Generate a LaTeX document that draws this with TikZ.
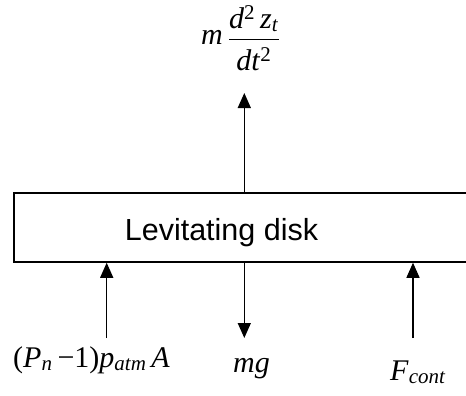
\documentclass[tikz,border=0pt]{standalone}
\usepackage{fontspec}
\setmainfont{Liberation Serif}
\newfontfamily\arialf{Liberation Sans}
\usetikzlibrary{arrows.meta}
\newcommand\vv[1]{\textit{#1}}
\begin{document}
\begin{tikzpicture}[x=1pt,y=-1pt,
  force/.style={line width=1.3pt,-{Triangle[length=15pt,width=13pt]}},
  mathlbl/.style={font=\fontsize{30}{34}\selectfont, inner sep=0pt},
  diskbox/.style={draw,line width=1.5pt,minimum width=455pt,minimum height=69pt,inner sep=0pt}]
\useasboundingbox (0,0) rectangle (466,396);
\node[diskbox] (disk) at (241.5,227.5) {};
\node[font=\arialf\fontsize{30.5}{34}\selectfont, anchor=base, inner sep=0pt] (disktext) at (221.5,240) {Levitating disk};
% top force
\coordinate (toptip) at (244.3,93);
\draw[force] (disk.north -| toptip) -- (toptip);
\node[mathlbl, anchor=base west] (inertia) at (201,45)
  {\vv{m}\,$\displaystyle\frac{\hbox{\rule[-4pt]{0pt}{4pt}\vv{d}\textsuperscript{2}\,\vv{z}\textsubscript{\vv{t}}}}{\hbox{\rule{0pt}{30pt}\vv{dt}\textsuperscript{2}}}$};
% bottom forces
\coordinate (pbase) at (106.7,338);
\coordinate (gtip) at (244.3,338);
\coordinate (fbase) at (413,338);
\draw[force] (pbase) -- (pbase |- disk.south);
\draw[force] (disk.south -| gtip) -- (gtip);
\draw[force] (fbase) -- (fbase |- disk.south);
\node[mathlbl, anchor=base west] (plbl) at (13,367)
  {(\vv{P}\textsubscript{\vv{n}}\,−1)\vv{p}\textsubscript{\vv{atm}}\,\vv{A}};
\node[mathlbl, anchor=base west] (mglbl) at (233,372) {\vv{mg}};
\node[mathlbl, anchor=base west] (flbl) at (390,380) {\vv{F}\textsubscript{\vv{cont}}};
\end{tikzpicture}
\end{document}
